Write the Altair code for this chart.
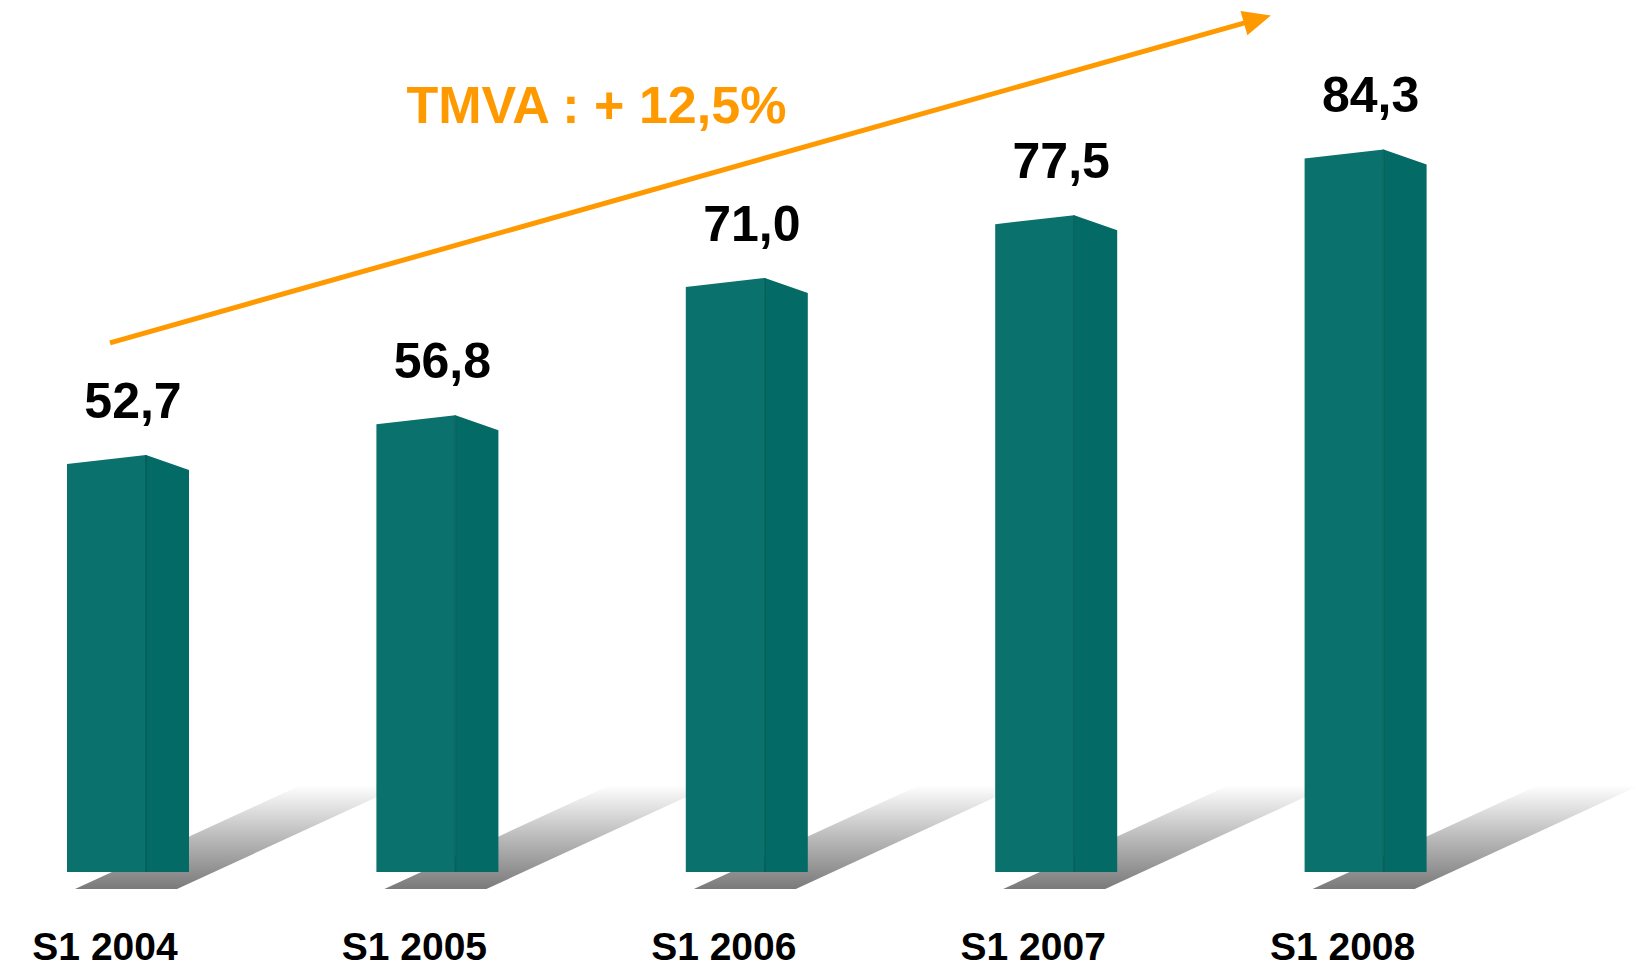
import math
import altair as alt
import pandas as pd

# ---- data ----
categories = ["S1 2004", "S1 2005", "S1 2006", "S1 2007", "S1 2008"]
values = [52.7, 56.8, 71.0, 77.5, 84.3]
value_labels = ["52,7", "56,8", "71,0", "77,5", "84,3"]
cagr_label = "TMVA : + 12,5%"
# annotation arrow (slot index, value units)
arrow_start = (0.139, 64.3)
arrow_tip = (3.891, 98.15)
cagr_pos = (1.711, 88.7)

# ---- geometry / style ----
W, H = 1636, 971
XS = 309.4          # px per slot
YS = 9.67           # px per value unit
X0 = -67 / XS
X1 = (W - 67) / XS
YTOP = 99.75
YBOT = YTOP - H / YS
BASE = YTOP - 872 / YS

FRONT = "#0b716d"
SIDE = "#036a65"
EDGE = "#02554f"
ORANGE = "#ff9900"
FONT = "Liberation Sans"


def px_x(p):
    return p / XS


def px_y(p):
    return p / YS


xs = alt.Scale(domain=[X0, X1], nice=False, zero=False)
ys = alt.Scale(domain=[YBOT, YTOP], nice=False, zero=False)

base_df = pd.DataFrame({
    "idx": list(range(len(categories))),
    "cat": categories,
    "value": values,
    "label": value_labels,
})

# faces of the pseudo-3D columns
front_rows, side_rows, shadow_rows = [], [], []
for i, v in enumerate(values):
    front_rows += [
        {"key": f"f{i}", "x": i, "y": v - px_y(9)},
        {"key": f"f{i}", "x": i + px_x(79), "y": v},
    ]
    side_rows += [
        {"key": f"s{i}", "x": i + px_x(79), "y": v},
        {"key": f"s{i}", "x": i + px_x(122), "y": v - px_y(15)},
    ]
    sb = YTOP - 889 / YS
    st = YTOP - 785 / YS
    shift = 226
    shadow_rows += [
        {"key": f"h{i}", "y": sb, "x": i + px_x(8), "x2": i + px_x(110)},
        {"key": f"h{i}", "y": st, "x": i + px_x(8 + shift), "x2": i + px_x(110 + shift)},
    ]
front_df = pd.DataFrame(front_rows)
side_df = pd.DataFrame(side_rows)
shadow_df = pd.DataFrame(shadow_rows)
front_df["base"] = BASE
side_df["base"] = BASE

shadows = alt.Chart(shadow_df).mark_area(
    orient="horizontal",
    color=alt.Gradient(
        gradient="linear",
        stops=[
            alt.GradientStop(color="#7a7a7a", offset=0),
            alt.GradientStop(color="#b4b4b4", offset=0.45),
            alt.GradientStop(color="#ffffff", offset=1),
        ],
        x1=0, x2=0, y1=1, y2=0,
    ),
).encode(
    y=alt.Y("y:Q", scale=ys, axis=None, stack=None),
    x=alt.X("x:Q", scale=xs, axis=None),
    x2="x2:Q",
    detail="key:N",
)

front = alt.Chart(front_df).mark_area(color=FRONT, opacity=1).encode(
    x=alt.X("x:Q", scale=xs, axis=None),
    y=alt.Y("y:Q", scale=ys, axis=None, stack=None),
    y2="base:Q",
    detail="key:N",
)

side = alt.Chart(side_df).mark_area(color=SIDE, opacity=1).encode(
    x=alt.X("x:Q", scale=xs, axis=None),
    y=alt.Y("y:Q", scale=ys, axis=None, stack=None),
    y2="base:Q",
    detail="key:N",
)

edge_df = base_df.assign(ex=base_df["idx"] + px_x(79), base=BASE)
edges = alt.Chart(edge_df).mark_rule(color=EDGE, strokeWidth=1.5, opacity=0.7).encode(
    x=alt.X("ex:Q", scale=xs, axis=None),
    y=alt.Y("value:Q", scale=ys, axis=None),
    y2="base:Q",
)

value_text = alt.Chart(base_df).mark_text(
    font=FONT, fontSize=50, fontWeight="bold", color="#000000",
    align="center", baseline="middle", dx=66, dy=-52,
).encode(
    x=alt.X("idx:Q", scale=xs, axis=None),
    y=alt.Y("value:Q", scale=ys, axis=None),
    text="label:N",
)

cat_text = alt.Chart(base_df).mark_text(
    font=FONT, fontSize=39, fontWeight="bold", color="#000000",
    align="center", baseline="middle", dx=38,
).encode(
    x=alt.X("idx:Q", scale=xs, axis=None),
    y=alt.value(948),
    text="cat:N",
)

# arrow
sx, sy = arrow_start
tx, ty = arrow_tip
dpx = (tx - sx) * XS
dpy = -(ty - sy) * YS
L = math.hypot(dpx, dpy)
ux, uy = dpx / L, dpy / L
back = 18
ex = tx - back * ux / XS
ey = ty + back * uy / YS
angle = (math.degrees(math.atan2(dpy, dpx)) + 360) % 360

arrow_df = pd.DataFrame({"x": [sx], "y": [sy], "x2": [ex], "y2": [ey]})
arrow_line = alt.Chart(arrow_df).mark_rule(color=ORANGE, strokeWidth=5).encode(
    x=alt.X("x:Q", scale=xs, axis=None),
    y=alt.Y("y:Q", scale=ys, axis=None),
    x2="x2:Q",
    y2="y2:Q",
)
head_df = pd.DataFrame({"x": [tx], "y": [ty]})
arrow_head = alt.Chart(head_df).mark_point(
    shape="M0,0 L-1,-0.45 L-1,0.45 Z", filled=True, size=3136,
    color=ORANGE, opacity=1, strokeWidth=0, angle=angle,
).encode(
    x=alt.X("x:Q", scale=xs, axis=None),
    y=alt.Y("y:Q", scale=ys, axis=None),
)

cagr_df = pd.DataFrame({"x": [cagr_pos[0]], "y": [cagr_pos[1]], "t": [cagr_label]})
cagr_text = alt.Chart(cagr_df).mark_text(
    font=FONT, fontSize=52, fontWeight="bold", color=ORANGE,
    align="center", baseline="middle",
).encode(
    x=alt.X("x:Q", scale=xs, axis=None),
    y=alt.Y("y:Q", scale=ys, axis=None),
    text="t:N",
)

chart = alt.layer(
    shadows, front, side, edges, value_text, cat_text, arrow_line, arrow_head, cagr_text
).properties(
    width=W, height=H, padding=0,
    autosize=alt.AutoSizeParams(type="none"),
    background="#ffffff",
).configure_view(stroke=None)

chart.save("out.html", embed_options={"renderer": "svg", "actions": False})
